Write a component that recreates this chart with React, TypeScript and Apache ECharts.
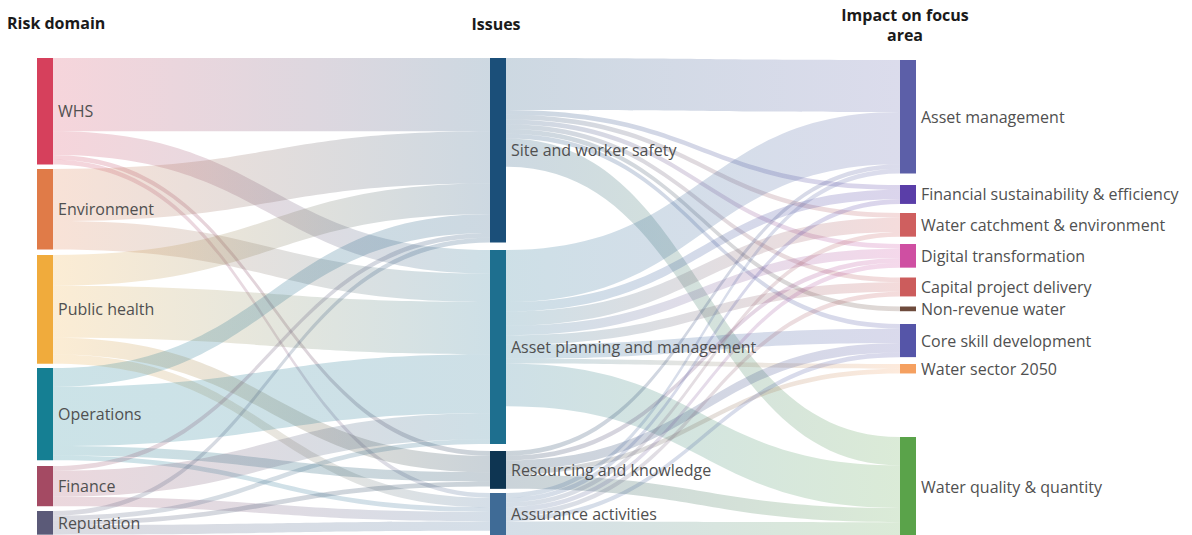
import React, { useEffect, useRef } from "react";
import * as echarts from "echarts";

// ---------- data ----------
const riskDomains = ["WHS", "Environment", "Public health", "Operations", "Finance", "Reputation"];
const issues = [
  "Site and worker safety",
  "Asset planning and management",
  "Resourcing and knowledge",
  "Assurance activities",
];
const focusAreas = [
  "Asset management",
  "Financial sustainability & efficiency",
  "Water catchment & environment",
  "Digital transformation",
  "Capital project delivery",
  "Non-revenue water",
  "Core skill development",
  "Water sector 2050",
  "Water quality & quantity",
];

// rows: risk domains, columns: issues
const riskToIssue = [
  [15.5, 5, 1, 1],
  [11, 6, 0, 0],
  [6.5, 11, 3.5, 2],
  [4, 12.5, 2, 1],
  [1, 5.5, 0, 2],
  [1, 1, 1, 2],
];

// rows: issues, columns: focus areas
const issueToFocus = [
  [11, 1, 1, 1, 1, 1, 1, 0, 6],
  [11, 2, 3, 2, 2, 0, 3, 1, 9],
  [1, 0, 0, 1, 0, 0, 2, 1, 3],
  [1, 1, 1, 1, 1, 0, 1, 0, 3],
];

// ---------- layout / style ----------
const SERIES_TOP = 58;
const SERIES_H = 477;
const SERIES_LEFT = 37;
const SERIES_W = 879;
const MID_X = 490;
const riskTops = [58, 169, 255, 368, 466, 511];
const issueTops = [58, 250, 451, 493];
const focusTops = [60, 185, 213, 244, 277.5, 306.5, 324, 364, 437];

const riskColors = ["#d6405c", "#e07b48", "#f0ab3c", "#157f93", "#a44a63", "#5b5a78"];
const issueColors = ["#1b4f79", "#1e6f8f", "#0e3552", "#3f6b96"];
const focusColors = [
  "#5c5fa8",
  "#5a3ea8",
  "#cf5f5f",
  "#cf4fa2",
  "#cc5c5c",
  "#6e4b3c",
  "#5555a8",
  "#f5a060",
  "#5aa34a",
];

export default function App() {
  const ref = useRef<HTMLDivElement>(null);

  useEffect(() => {
    if (!ref.current) return;
    const chart = echarts.init(ref.current, null, { renderer: "svg" });

    const nodes: any[] = [];
    riskDomains.forEach((n, i) =>
      nodes.push({
        name: n,
        localX: 0,
        localY: (riskTops[i] - SERIES_TOP) / SERIES_H,
        itemStyle: { color: riskColors[i] },
      })
    );
    issues.forEach((n, i) =>
      nodes.push({
        name: n,
        localX: (MID_X - SERIES_LEFT) / SERIES_W,
        localY: (issueTops[i] - SERIES_TOP) / SERIES_H,
        itemStyle: { color: issueColors[i] },
      })
    );
    focusAreas.forEach((n, i) =>
      nodes.push({
        name: n,
        localY: (focusTops[i] - SERIES_TOP) / SERIES_H,
        itemStyle: { color: focusColors[i] },
      })
    );

    const links: any[] = [];
    riskToIssue.forEach((row, i) =>
      row.forEach((v, j) => {
        if (v > 0) links.push({ source: riskDomains[i], target: issues[j], value: v });
      })
    );
    issueToFocus.forEach((row, i) =>
      row.forEach((v, j) => {
        if (v > 0) links.push({ source: issues[i], target: focusAreas[j], value: v });
      })
    );

    const headerStyle = {
      fontFamily: "Open Sans",
      fontWeight: "bold",
      fontSize: 16,
      fill: "#1a1a1a",
    };

    chart.setOption({
      animation: false,
      graphic: [
        {
          type: "text",
          left: 7,
          top: 15,
          style: { ...headerStyle, text: "Risk domain" },
        },
        {
          type: "text",
          x: 496,
          y: 24,
          style: { ...headerStyle, text: "Issues", textAlign: "center", textVerticalAlign: "middle" },
        },
        {
          type: "text",
          x: 905,
          y: 15,
          style: { ...headerStyle, text: "Impact on focus", textAlign: "center", textVerticalAlign: "middle" },
        },
        {
          type: "text",
          x: 905,
          y: 35,
          style: { ...headerStyle, text: "area", textAlign: "center", textVerticalAlign: "middle" },
        },
      ],
      series: [
        {
          type: "sankey",
          left: SERIES_LEFT,
          top: SERIES_TOP,
          width: SERIES_W,
          height: SERIES_H,
          nodeWidth: 16,
          nodeGap: 5,
          layoutIterations: 0,
          draggable: false,
          emphasis: { disabled: true },
          data: nodes,
          links: links,
          itemStyle: { borderWidth: 0 },
          lineStyle: { color: "gradient", opacity: 0.22, curveness: 0.5 },
          label: {
            show: true,
            position: "right",
            distance: 5,
            color: "#505050",
            fontFamily: "Open Sans",
            fontSize: 16,
          },
        },
      ],
    });

    return () => chart.dispose();
  }, []);

  return (
    <div
      ref={ref}
      style={{ position: "absolute", left: 0, top: 0, width: 1192, height: 535 }}
    />
  );
}
